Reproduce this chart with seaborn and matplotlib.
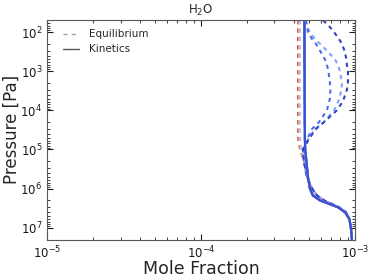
import numpy as np
import pandas as pd
import matplotlib
matplotlib.use("Agg")
import matplotlib.pyplot as plt
from matplotlib.lines import Line2D
import seaborn as sns

sns.set_style("ticks")
plt.rcParams["font.family"] = ["DejaVu Sans"]
plt.rcParams["mathtext.default"] = "regular"

# pressure levels [Pa]
pressure = [5e1, 7e1, 1e2, 1.5e2, 2e2, 3e2, 5e2, 7e2, 1e3, 2e3, 3e3, 5e3, 7e3,
            1e4, 2e4, 3e4, 5e4, 1e5, 2e5, 5e5, 1e6, 1.5e6, 2e6, 3e6, 4e6,
            6e6, 1e7, 2e7]

# quenched (kinetics) profile, same for every temperature
kinetics = [4.70e-4, 4.70e-4, 4.70e-4, 4.70e-4, 4.70e-4, 4.70e-4, 4.70e-4,
            4.70e-4, 4.71e-4, 4.71e-4, 4.71e-4, 4.71e-4, 4.72e-4, 4.72e-4,
            4.72e-4, 4.73e-4, 4.73e-4, 4.75e-4, 4.84e-4, 4.95e-4, 5.10e-4,
            5.33e-4, 5.93e-4, 7.76e-4, 8.61e-4, 9.21e-4, 9.42e-4, 9.56e-4]

# deep part shared by all equilibrium profiles (2e5 Pa and below)
eq_deep = [4.66e-4, 4.88e-4, 5.26e-4, 5.67e-4, 6.29e-4, 7.87e-4, 8.74e-4,
           9.21e-4, 9.42e-4, 9.56e-4]

# upper part of equilibrium profiles (50 Pa .. 1e5 Pa), hot -> cold
eq_t1 = [4.27e-4] * 17 + [4.40e-4]
eq_t2 = [4.33e-4] * 17 + [4.45e-4]
eq_t3 = [4.40e-4] * 17 + [4.50e-4]
eq_t4 = [4.77e-4, 4.88e-4, 5.07e-4, 5.50e-4, 5.93e-4, 6.58e-4, 7.42e-4,
         7.76e-4, 7.99e-4, 8.23e-4, 8.17e-4, 7.93e-4, 7.64e-4, 7.31e-4,
         6.29e-4, 5.50e-4, 5.03e-4, 4.59e-4]
eq_t5 = [4.81e-4, 4.88e-4, 4.95e-4, 5.26e-4, 5.58e-4, 5.93e-4, 6.39e-4,
         6.58e-4, 6.73e-4, 6.88e-4, 6.93e-4, 6.88e-4, 6.73e-4, 6.58e-4,
         5.84e-4, 5.26e-4, 4.95e-4, 4.59e-4]
eq_t6 = [6.20e-4, 6.78e-4, 7.31e-4, 7.87e-4, 8.23e-4, 8.55e-4, 8.81e-4,
         8.87e-4, 9.01e-4, 9.01e-4, 8.87e-4, 8.48e-4, 8.11e-4, 7.64e-4,
         6.29e-4, 5.58e-4, 5.10e-4, 4.59e-4]

colors = ["#dd4a3c", "#f29a86", "#b4c6f2", "#86a2f2", "#4d6ee0", "#2e44c6"]
equilibrium = [eq_t1, eq_t2, eq_t3, eq_t4, eq_t5, eq_t6]

fig = plt.figure(figsize=(3.74, 2.80), dpi=100)
ax = fig.add_axes([0.126, 0.143, 0.823, 0.786])

for col, upper in zip(colors, equilibrium):
    df = pd.DataFrame({"x": upper + eq_deep, "p": pressure})
    sns.lineplot(data=df, x="x", y="p", sort=False, estimator=None, ax=ax,
                 color=col, lw=1.5, linestyle=(0, (2, 2)))

for col in colors[:-1] + ["#3a50d2"]:
    df = pd.DataFrame({"x": kinetics, "p": pressure})
    sns.lineplot(data=df, x="x", y="p", sort=False, estimator=None, ax=ax,
                 color=col, lw=1.5)

ax.set_xscale("log")
ax.set_yscale("log")
ax.set_xlim(1e-5, 1e-3)
ax.set_ylim(2.05e7, 49)

ax.tick_params(which="both", direction="in", top=True, right=True,
               labelsize=8.5, colors="0.1")
ax.tick_params(which="major", length=4)
ax.tick_params(which="minor", length=2)
for s in ax.spines.values():
    s.set_color("0.35")

ax.set_xlabel("Mole Fraction", fontsize=12.5, labelpad=-1)
ax.set_ylabel("Pressure [Pa]", fontsize=12, labelpad=0)
ax.set_title("H$_2$O", fontsize=8.5, pad=4)

handles = [Line2D([], [], color="0.65", lw=1, linestyle=(0, (3, 3))),
           Line2D([], [], color="0.35", lw=1)]
ax.legend(handles, ["Equilibrium", "Kinetics"], loc="upper left",
          bbox_to_anchor=(0.02, 1.0), frameon=False, fontsize=7.5,
          handlelength=1.6, handletextpad=0.9)

fig.savefig("out.png", dpi=100)
